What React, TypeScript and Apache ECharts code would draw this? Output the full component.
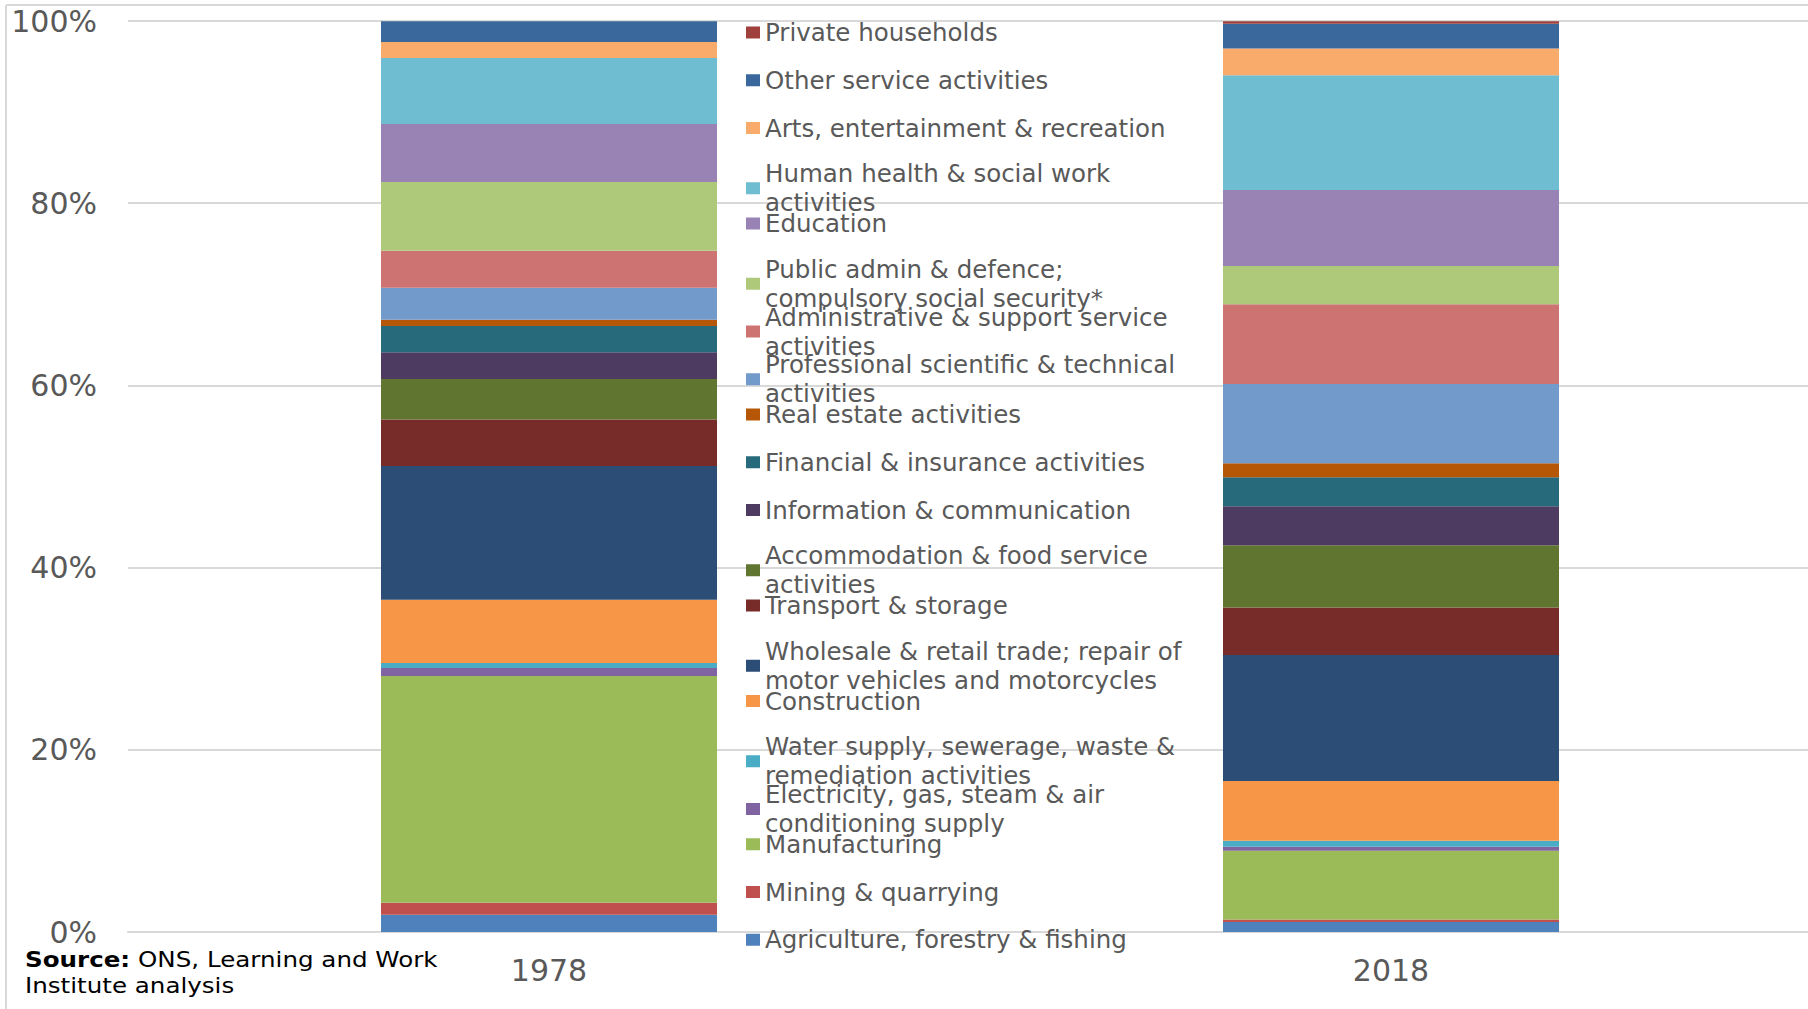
import React, { useEffect, useRef } from "react";
import * as echarts from "echarts";

// Categories (x axis)
const categories = ["1978", "2018"];

// Sectors, listed from the bottom of each stack to the top
const sectors = [
  "Agriculture, forestry & fishing",
  "Mining & quarrying",
  "Manufacturing",
  "Electricity, gas, steam & air conditioning supply",
  "Water supply, sewerage, waste & remediation activities",
  "Construction",
  "Wholesale & retail trade; repair of motor vehicles and motorcycles",
  "Transport & storage",
  "Accommodation & food service activities",
  "Information & communication",
  "Financial & insurance activities",
  "Real estate activities",
  "Professional scientific & technical activities",
  "Administrative & support service activities",
  "Public admin & defence; compulsory social security*",
  "Education",
  "Human health & social work activities",
  "Arts, entertainment & recreation",
  "Other service activities",
  "Private households",
];

// Legend labels with the line breaks seen in the reference (same order)
const legendLabels = [
  "Agriculture, forestry & fishing",
  "Mining & quarrying",
  "Manufacturing",
  "Electricity, gas, steam & air\nconditioning supply",
  "Water supply, sewerage, waste &\nremediation activities",
  "Construction",
  "Wholesale & retail trade; repair of\nmotor vehicles and motorcycles",
  "Transport & storage",
  "Accommodation & food service\nactivities",
  "Information & communication",
  "Financial & insurance activities",
  "Real estate activities",
  "Professional scientific & technical\nactivities",
  "Administrative & support service\nactivities",
  "Public admin & defence;\ncompulsory social security*",
  "Education",
  "Human health & social work\nactivities",
  "Arts, entertainment & recreation",
  "Other service activities",
  "Private households",
];

// Share of employment (%) in 1978, same order as sectors
const values1978 = [
  1.9, 1.32, 24.88, 0.88, 0.55, 6.95, 14.67, 5.12, 4.43, 2.93,
  2.89, 0.7, 3.51, 4.06, 7.54, 6.37, 7.24, 1.76, 2.27, 0,
];

// Share of employment (%) in 2018, same order as sectors
const values2018 = [
  1.1, 0.26, 7.57, 0.44, 0.66, 6.55, 13.83, 5.2, 6.84, 4.28,
  3.18, 1.54, 8.71, 8.74, 4.21, 8.34, 12.59, 2.93, 2.74, 0.25,
];

// Segment colours, same order as sectors
const colors = [
  "#4F81BD", "#C0504D", "#9BBB59", "#8064A2", "#4BACC6",
  "#F79646", "#2C4D75", "#772C2A", "#5F7530", "#4D3B62",
  "#276A7C", "#B65708", "#729ACA", "#CD7371", "#AFC97A",
  "#9983B5", "#6FBDD1", "#F9AB6B", "#3A679C", "#A0403D",
];

const yTicks = [0, 20, 40, 60, 80, 100];

export default function App() {
  const ref = useRef<HTMLDivElement>(null);

  useEffect(() => {
    if (!ref.current) return;
    const chart = echarts.init(ref.current, undefined, { renderer: "svg" });

    const font = "DejaVu Sans";
    const textGray = "#595959";
    const gridGray = "#D9D9D9";

    const n = sectors.length;
    const legends = sectors.map((name, k) => {
      const t = n - 1 - k; // position from the top
      const yc = 30 + t * 47.75;
      return {
        data: [name],
        orient: "vertical",
        left: 746,
        top: yc - 12,
        padding: 0,
        icon: "rect",
        itemWidth: 14,
        itemHeight: 12,
        selectedMode: false,
        formatter: () => legendLabels[k],
        textStyle: {
          fontFamily: font,
          fontSize: 24.5,
          color: textGray,
          lineHeight: 29,
          height: 29,
        },
      };
    });

    const series = sectors.map((name, k) => ({
      name,
      type: "bar",
      stack: "total",
      barWidth: 336,
      data: [values1978[k], values2018[k]],
      itemStyle: { color: colors[k] },
      emphasis: { disabled: true },
    }));

    chart.setOption({
      animation: false,
      backgroundColor: "#ffffff",
      grid: { left: 128, top: 21, width: 1684, height: 911, containLabel: false },
      xAxis: {
        type: "category",
        data: categories,
        axisTick: { show: false },
        axisLine: { show: true, lineStyle: { color: gridGray, width: 2 } },
        axisLabel: {
          fontFamily: font,
          fontSize: 30,
          color: textGray,
          margin: 23,
        },
      },
      yAxis: {
        type: "value",
        min: yTicks[0],
        max: yTicks[yTicks.length - 1],
        interval: 20,
        axisLine: { show: false },
        axisTick: { show: false },
        splitLine: { show: true, lineStyle: { color: gridGray, width: 2 } },
        axisLabel: {
          fontFamily: font,
          fontSize: 30,
          color: textGray,
          margin: 31,
          formatter: "{value}%",
        },
      },
      legend: legends,
      series,
      graphic: [
        {
          type: "line",
          shape: { x1: 6, y1: 5, x2: 1840, y2: 5 },
          style: { stroke: gridGray, lineWidth: 2 },
          silent: true,
        },
        {
          type: "line",
          shape: { x1: 6, y1: 5, x2: 6, y2: 1009 },
          style: { stroke: gridGray, lineWidth: 2 },
          silent: true,
        },
        {
          type: "text",
          x: 25,
          y: 947,
          scaleX: 1.17,
          silent: true,
          style: {
            text: "{b|Source:} ONS, Learning and Work\nInstitute analysis",
            fontFamily: font,
            fontSize: 21,
            lineHeight: 26,
            verticalAlign: "top",
            fill: "#000000",
            rich: {
              b: { fontFamily: font, fontSize: 21, fontWeight: "bold", fill: "#000000", lineHeight: 26 },
            },
          },
        },
      ],
    });

    return () => chart.dispose();
  }, []);

  return (
    <div
      style={{
        position: "absolute",
        left: 0,
        top: 0,
        width: 1808,
        height: 1009,
        overflow: "hidden",
        background: "#fff",
      }}
    >
      <div ref={ref} style={{ width: 1840, height: 1009 }} />
    </div>
  );
}
